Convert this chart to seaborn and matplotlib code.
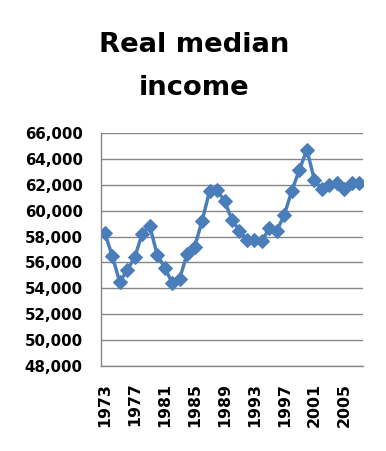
import matplotlib
matplotlib.use("Agg")
import matplotlib.pyplot as plt
import matplotlib.ticker as mticker
import seaborn as sns
import pandas as pd

years = list(range(1973, 2008))
income = [58300, 56500, 54500, 55400, 56400, 58200, 58850, 56600, 55600, 54450,
          54750, 56650, 57200, 59200, 61500, 61600, 60750, 59300, 58450, 57750,
          57750, 57650, 58650, 58450, 59700, 61550, 63150, 64700, 62400, 61650,
          62000, 62150, 61700, 62150, 62100]
year_ticks = list(range(1973, 2006, 4))
y_ticks = list(range(48000, 66001, 2000))
title = "Real median\nincome"

df = pd.DataFrame({"year": years, "income": income})

sns.set_style("white")
plt.rcParams["font.family"] = ["DejaVu Sans"]

fig = plt.figure(figsize=(3.86, 4.51), dpi=100)
ax = fig.add_axes([101/386, 1-366/451, (363-101)/386, (366-133)/451])

grid_c = "#868686"
line_c = "#4A7EBB"

sns.lineplot(data=df, x="year", y="income", ax=ax, color=line_c, linewidth=2.5,
             marker="D", markersize=7.5, markeredgecolor=line_c, markerfacecolor=line_c)

ax.set_xlim(1972.5, 2007.5)
ax.set_ylim(48000, 66000)
ax.set_yticks(y_ticks)
ax.yaxis.set_major_formatter(mticker.FuncFormatter(lambda v, p: f"{int(v):,}"))
ax.set_xticks(year_ticks)
ax.set_xticklabels([str(y) for y in year_ticks], rotation=90)
ax.set_xticks([y + 0.5 for y in range(1972, 2008)], minor=True)

ax.tick_params(axis="x", which="major", length=0, pad=12, labelsize=11.3, labelcolor="black")
ax.tick_params(axis="x", which="minor", length=3.6, width=0.8, color=grid_c, direction="out")
ax.tick_params(axis="y", which="major", length=3.6, width=0.8, color=grid_c, labelsize=10.8,
               pad=9.5, labelcolor="black")
for lab in ax.get_xticklabels() + ax.get_yticklabels():
    lab.set_fontweight("bold")

ax.grid(axis="y", color=grid_c, linewidth=1.0)
ax.set_axisbelow(True)
for s in ["top", "right"]:
    ax.spines[s].set_visible(False)
for s in ["left", "bottom"]:
    ax.spines[s].set_color(grid_c)
    ax.spines[s].set_linewidth(1.0)
ax.set_xlabel("")
ax.set_ylabel("")

fig.text(0.503, 1-32/451, title, ha="center", va="top", fontsize=19.7,
         fontweight="bold", family=["DejaVu Sans"], linespacing=1.85, color="black")

fig.savefig("out.png", dpi=100)
